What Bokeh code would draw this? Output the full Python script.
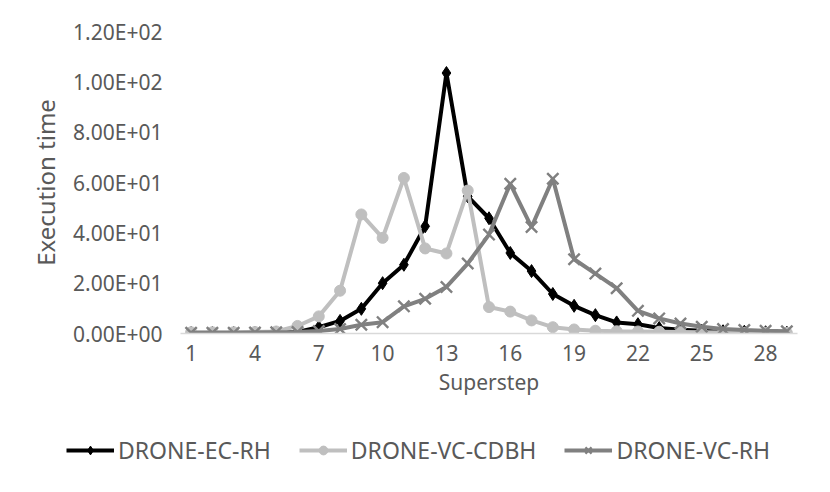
from bokeh.plotting import figure
from bokeh.layouts import column
from bokeh.models import FixedTicker, Legend, LegendItem, Range1d
from bokeh.embed import file_html
from bokeh.resources import INLINE

steps = list(range(1, 30))
ec_rh = [0.2, 0.2, 0.2, 0.3, 0.4, 0.6, 2.5, 5.0, 9.8, 20.0, 27.3, 42.6, 103.5, 54.5,
         45.8, 32.0, 24.8, 15.7, 11.0, 7.3, 4.4, 3.7, 2.2, 1.5, 1.1, 0.9, 0.7, 0.5, 0.3]
vc_cdbh = [0.5, 0.5, 0.5, 0.6, 0.8, 3.0, 6.8, 17.0, 47.3, 38.0, 61.8, 33.8, 31.8, 56.8,
           10.5, 8.7, 5.2, 2.5, 1.6, 1.1, 0.9, 0.8, 0.7, 0.6, 0.5, 0.4, 0.3, 0.3, 0.2]
vc_rh = [0.3, 0.3, 0.3, 0.4, 0.5, 0.6, 1.0, 1.8, 3.5, 4.5, 10.8, 13.8, 18.5, 27.8,
         39.3, 59.5, 42.3, 61.5, 29.5, 23.8, 18.0, 9.0, 6.0, 4.0, 2.7, 1.8, 1.4, 1.1, 0.9]
series_names = ["DRONE-EC-RH", "DRONE-VC-CDBH", "DRONE-VC-RH"]

y_ticks = [0, 20, 40, 60, 80, 100, 120]
y_tick_labels = ["0.00E+00", "2.00E+01", "4.00E+01", "6.00E+01", "8.00E+01", "1.00E+02", "1.20E+02"]
x_ticks = [1, 4, 7, 10, 13, 16, 19, 22, 25, 28]

FONT = "Noto Sans"
TXT = "#595959"
colors = ["#000000", "#bfbfbf", "#808080"]
markers = ["diamond", "circle", "x"]
sizes = [13, 11, 16]
series = [ec_rh, vc_cdbh, vc_rh]

p = figure(width=814, height=410, output_backend="svg", toolbar_location=None,
           x_range=Range1d(0.5, 29.5), y_range=Range1d(0, 120),
           min_border_left=180, min_border_right=17, min_border_top=31, min_border_bottom=77)
p.outline_line_color = None
p.grid.visible = False

p.xaxis.ticker = FixedTicker(ticks=x_ticks)
p.yaxis.ticker = FixedTicker(ticks=y_ticks)
p.yaxis.major_label_overrides = {t: l for t, l in zip(y_ticks, y_tick_labels)}
for ax in (p.xaxis, p.yaxis):
    ax.major_tick_line_color = None
    ax.minor_tick_line_color = None
    ax.major_tick_out = 0
    ax.major_tick_in = 0
    ax.major_label_text_font = FONT
    ax.major_label_text_color = TXT
    ax.major_label_text_font_size = "21px"
    ax.axis_label_text_font = FONT
    ax.axis_label_text_color = TXT
    ax.axis_label_text_font_style = "normal"
p.yaxis.axis_line_color = None
p.xaxis.axis_line_color = "#d9d9d9"
p.xaxis.axis_line_width = 1.5
p.yaxis.axis_label = "Execution time"
p.xaxis.axis_label = "Superstep"
p.yaxis.axis_label_text_font_size = "24px"
p.xaxis.axis_label_text_font_size = "21px"
p.yaxis.major_label_standoff = 18
p.yaxis.axis_label_standoff = 8
p.xaxis.major_label_standoff = 11
p.xaxis.axis_label_standoff = 4

for ys, col, mk, sz in zip(series, colors, markers, sizes):
    p.line(steps, ys, line_color=col, line_width=4)
    if mk == "x":
        p.scatter(steps, ys, marker=mk, size=sz, line_color=col, line_width=2.4)
    else:
        p.scatter(steps, ys, marker=mk, size=sz, color=col)

# legend strip under the chart (its own plot, data kept out of view)
lg = figure(width=814, height=66, output_backend="svg", toolbar_location=None,
            x_range=Range1d(100, 101), y_range=Range1d(1000, 1001),
            x_axis_location=None, y_axis_location=None,
            min_border_left=0, min_border_right=0, min_border_top=0, min_border_bottom=0)
if "frame_align" in lg.properties():
    lg.frame_align = False
    p.frame_align = False
lg.grid.visible = False
lg.outline_line_color = None
items = []
for name, ys, col, mk, sz in zip(series_names, series, colors, markers, sizes):
    r1 = lg.line(steps, ys, line_color=col, line_width=4)
    if mk == "x":
        r2 = lg.scatter(steps, ys, marker=mk, size=sz, line_color=col, line_width=2.4)
    else:
        r2 = lg.scatter(steps, ys, marker=mk, size=sz, color=col)
    items.append(LegendItem(label=name, renderers=[r1, r2]))
legend = Legend(items=items, orientation="horizontal", location=(66, 10))
legend.border_line_color = None
legend.background_fill_alpha = 0
legend.glyph_width = 48
legend.glyph_height = 22
legend.label_standoff = 4
legend.spacing = 28
legend.label_text_font = FONT
legend.label_text_color = TXT
legend.label_text_font_size = "23px"
legend.margin = 0
legend.padding = 4
lg.add_layout(legend, "center")

layout = column(p, lg, spacing=0)
open("out.html", "w").write(file_html(layout, INLINE))
